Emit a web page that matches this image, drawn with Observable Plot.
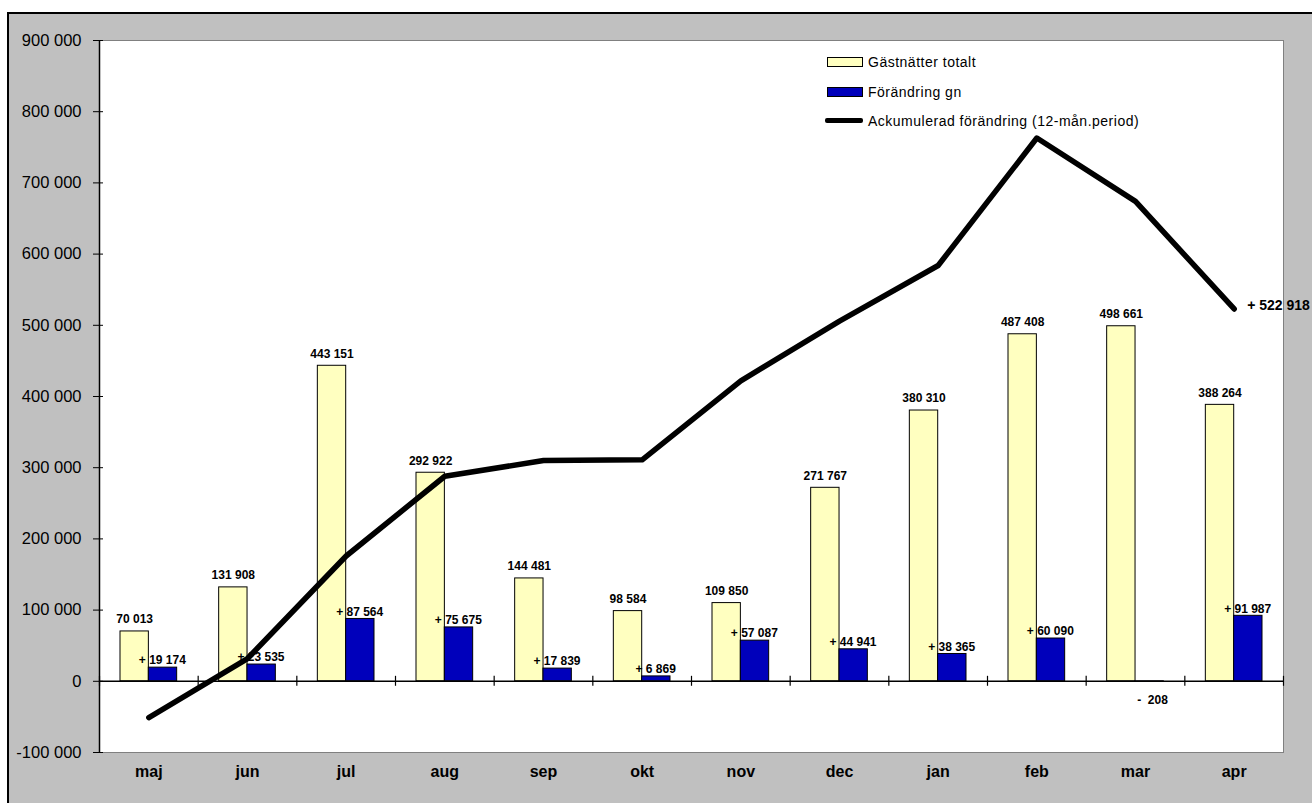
<!DOCTYPE html>
<html>
<head>
<meta charset="utf-8">
<script src="https://cdn.jsdelivr.net/npm/d3@7"></script>
<script src="https://cdn.jsdelivr.net/npm/@observablehq/plot@0.6"></script>
<style>
  html, body { margin: 0; padding: 0; background: white; }
  #wrap { position: relative; width: 1312px; height: 803px; overflow: hidden; font-family: "Liberation Sans", Arial, sans-serif; }
  #bg { position: absolute; left: 7px; top: 12px; right: 0; bottom: 0; background: #c0c0c0; border-left: 2px solid black; border-top: 2px solid black; }
  #chart { position: absolute; left: 0; top: 0; }
  .leg { position: absolute; font-size: 14px; color: black; letter-spacing: 0.5px; line-height: 1; }
  .sw { position: absolute; }
</style>
</head>
<body>
<div id="wrap">
  <div id="bg"></div>
  <div id="chart"></div>
  <div class="sw" style="left:827px;top:57px;width:34px;height:8px;background:#FFFFC0;border:1px solid black;"></div>
  <div class="leg" style="left:868px;top:55px;">Gästnätter totalt</div>
  <div class="sw" style="left:827px;top:87px;width:34px;height:8px;background:#0000BB;border:1px solid black;"></div>
  <div class="leg" style="left:868px;top:85px;">Förändring gn</div>
  <div class="sw" style="left:825px;top:118px;width:38px;height:5px;background:black;border-radius:2px;"></div>
  <div class="leg" style="left:868px;top:114px;">Ackumulerad förändring (12-mån.period)</div>
</div>
<script>
const months = ["maj","jun","jul","aug","sep","okt","nov","dec","jan","feb","mar","apr"];
const totals = [70013,131908,443151,292922,144481,98584,109850,271767,380310,487408,498661,388264];
const changes = [19174,23535,87564,75675,17839,6869,57087,44941,38365,60090,-208,91987];
const accumulated = [-51000,32000,176000,288000,310000,311000,422000,506000,584000,763000,674000,522918];
const yTicks = [-100000,0,100000,200000,300000,400000,500000,600000,700000,800000,900000];

const data = months.map((m, i) => ({month: m, total: totals[i], change: changes[i], acc: accumulated[i]}));
const sp = n => d3.format(",")(Math.abs(n)).replace(/,/g, " ");
const fmtY = n => (n < 0 ? "-" : "") + sp(n);

const W = 1312, H = 803, ML = 99, MR = 29, MT = 40, MB = 51;
const step = (W - ML - MR) / months.length;

const chart = Plot.plot({
  width: W, height: H,
  marginLeft: ML, marginRight: MR, marginTop: MT, marginBottom: MB,
  style: {background: "transparent", fontFamily: "'Liberation Sans', Arial, sans-serif", color: "black"},
  x: {type: "band", domain: months, padding: 0, round: false, label: null},
  y: {domain: [-100000, 900000], label: null},
  marks: [
    Plot.frame({fill: "white", stroke: "#808080"}),
    Plot.axisY({ticks: yTicks, tickSize: 6, tickPadding: 12, tickFormat: fmtY, fontSize: 16.5, stroke: "black"}),
    Plot.axisY({ticks: yTicks, tickSize: -4, tickFormat: () => "", stroke: "black"}),
    Plot.axisX({tickSize: 0, tickPadding: 13, fontSize: 16, fontWeight: "bold"}),
    Plot.ruleX([months[0]], {dx: -step / 2, stroke: "black", strokeWidth: 1.5}),
    Plot.barY(data, {x: "month", y: "total", fill: "#FFFFC0", stroke: "black", strokeWidth: 1, insetLeft: 21, insetRight: 49.3}),
    Plot.barY(data, {x: "month", y: "change", fill: "#0000BB", stroke: "black", strokeWidth: 1, insetLeft: 49.3, insetRight: 21}),
    Plot.ruleY([0], {stroke: "black", strokeWidth: 1.5}),
    Plot.ruleX(months, {y1: -7000, y2: 7000, dx: -step / 2, stroke: "black", strokeWidth: 1.2}),
    Plot.ruleX([months[months.length - 1]], {y1: -7000, y2: 7000, dx: step / 2, stroke: "black", strokeWidth: 1.2}),
    Plot.text(data, {x: "month", y: "total", text: d => sp(d.total), dx: -14.2, dy: -12, fontWeight: "bold", fontSize: 12, fill: "black"}),
    Plot.text(data.filter(d => d.change >= 0), {x: "month", y: "change", text: d => "+ " + sp(d.change), dx: 13.5, dy: -7, fontWeight: "bold", fontSize: 12, fill: "black"}),
    Plot.text(data.filter(d => d.change < 0), {x: "month", y: "change", text: d => "-  " + sp(d.change), dx: 17, dy: 19, fontWeight: "bold", fontSize: 12, fill: "black"}),
    Plot.line(data, {x: "month", y: "acc", stroke: "black", strokeWidth: 5.5}),
    Plot.text(data, Plot.selectLast({x: "month", y: "acc", text: d => "+ " + sp(d.acc), textAnchor: "start", dx: 13, dy: -3, fontWeight: "bold", fontSize: 14, fill: "black"}))
  ]
});
document.getElementById("chart").appendChild(chart);
</script>
</body>
</html>
